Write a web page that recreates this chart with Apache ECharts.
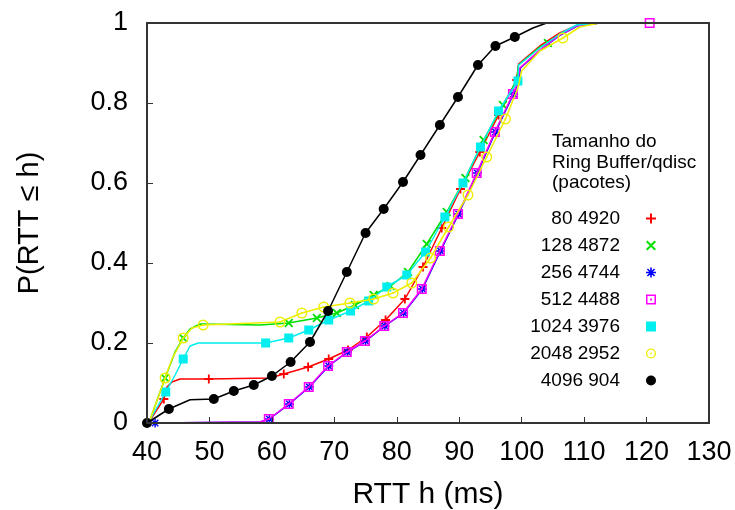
<!DOCTYPE html>
<html>
<head>
<meta charset="utf-8">
<script src="https://cdn.jsdelivr.net/npm/echarts@6/dist/echarts.min.js"></script>
<style>html,body{margin:0;padding:0;background:#fff}#c{width:735px;height:510px}</style>
</head>
<body>
<div id="c"></div>
<script>
// ---- data ----
const names = ['80 4920','128 4872','256 4744','512 4488','1024 3976','2048 2952','4096 904'];

const redX = [40.2,42.7,43.2,44.0,45.3,49.9,59.7,61.9,65.8,69.1,72.2,75.2,78.2,81.3,84.2,87.2,90.2,93.3,96.3,99.2,99.5,102.9,106.1,109.0,112.5];
const redY = [0,0.06,0.09,0.1025,0.11,0.11,0.1125,0.1225,0.14,0.16,0.1825,0.215,0.2575,0.31,0.39,0.4875,0.585,0.6775,0.77,0.8575,0.8975,0.9425,0.975,0.995,1];
const redM = [0,1,0,0,0,1,0,1,1,1,1,1,1,1,1,1,1,1,1,1,0,0,0,0,0];

const greenX = [40.3,42.9,44.5,45.8,46.9,48.5,58.1,62.7,67.2,70.4,73.3,76.3,79.0,81.8,84.8,88.0,91.0,93.9,97.0,99.2,99.5,102.9,104.2,106.4,109.0,112.5];
const greenY = [0,0.1125,0.1775,0.2125,0.235,0.2475,0.245,0.25,0.2625,0.275,0.295,0.32,0.3425,0.3775,0.4475,0.5275,0.6125,0.7075,0.795,0.8575,0.895,0.94,0.95,0.975,0.995,1];
const greenM = [0,1,0,1,0,0,0,1,1,1,1,1,1,1,1,1,1,1,1,0,0,0,1,0,0,0];

const blueX = [41.3,58.1,59.6,61.1,62.8,66.0,69.1,72.1,75.0,78.1,81.1,84.1,87.0,89.9,92.9,95.8,98.7,99.5,99.8,103.0,106.2,108.9,112.5,130];
const blueY = [0,0.0025,0.01,0.0275,0.0475,0.09,0.1425,0.1775,0.205,0.2425,0.275,0.335,0.43,0.5225,0.625,0.7275,0.8225,0.8525,0.8875,0.9325,0.97,0.9925,1,1];
const blueM = [1,0,1,0,1,1,1,1,1,1,1,1,1,1,1,1,1,0,0,0,0,0,0,0];

const magX = [40.8,58.1,59.5,61.0,62.7,65.9,69.0,72.0,74.9,78.0,81.0,84.0,86.9,89.8,92.8,95.7,98.6,99.4,99.7,102.9,106.1,108.8,112.5,120.5,130];
const magY = [0,0.0025,0.01,0.0275,0.0475,0.09,0.1425,0.1775,0.205,0.2425,0.275,0.335,0.43,0.5225,0.625,0.7275,0.8225,0.8525,0.8875,0.9325,0.97,0.9925,1,1,1];
const magM = [0,0,1,0,1,1,1,1,1,1,1,1,1,1,1,1,1,0,0,0,0,0,0,1,0];

const cyanX = [40.2,43.0,44.5,45.8,46.9,48.2,59.0,62.7,65.9,69.1,72.6,75.5,78.4,81.6,84.6,87.7,90.6,93.4,96.3,99.4,99.5,102.9,106.1,108.8,112.5];
const cyanY = [0,0.0775,0.12,0.16,0.1925,0.2,0.2,0.2125,0.2325,0.2575,0.28,0.305,0.34,0.37,0.4275,0.515,0.6,0.69,0.78,0.855,0.895,0.9375,0.9725,0.995,1];
const cyanM = [0,1,0,1,0,0,1,1,1,1,1,1,1,1,1,1,1,1,1,1,0,0,0,0,0];

const yellowX = [40.3,42.9,44.0,45.8,47.2,49.0,61.3,64.8,68.3,72.5,76.3,79.4,82.4,85.4,88.3,91.4,94.4,97.4,99.4,100.0,102.9,106.6,109.3,112.5];
const yellowY = [0,0.1125,0.16,0.2125,0.2375,0.245,0.2525,0.275,0.29,0.3,0.31,0.325,0.35,0.4125,0.49,0.57,0.665,0.76,0.8375,0.88,0.93,0.9625,0.99,1];
const yellowM = [0,1,0,1,0,1,1,1,1,1,1,1,1,1,1,1,1,1,0,0,0,1,0,0];

const blackX = [40,43.5,46.9,50.7,53.9,57.1,60.0,63.0,66.1,69.0,72.0,75.0,77.9,81.0,83.8,86.9,89.8,93.0,95.8,98.9,101.8,104.0,110];
const blackY = [0,0.035,0.058,0.06,0.08,0.095,0.1175,0.1525,0.2025,0.28,0.3775,0.475,0.535,0.6025,0.67,0.745,0.815,0.895,0.9425,0.965,0.9875,1,1];
const blackM = [1,1,0,1,1,1,1,1,1,1,1,1,1,1,1,1,1,1,1,1,0,0,0];

const xTicks = [40,50,60,70,80,90,100,110,120,130];
const yTicks = [0,0.2,0.4,0.6,0.8,1];

// ---- symbols ----
const SYM_PLUS = 'path://M4,0h2v4h4v2h-4v4h-2v-4h-4v-2h4z';
const SYM_X = 'path://M0,1.4L1.4,0L5,3.6L8.6,0L10,1.4L6.4,5L10,8.6L8.6,10L5,6.4L1.4,10L0,8.6L3.6,5Z';
const SYM_STAR = 'path://M4.2,0h1.6v4.2h4.2v1.6h-4.2v4.2h-1.6v-4.2h-4.2v-1.6h4.2z M0.9,2.0L2.0,0.9L5,3.9L8.0,0.9L9.1,2.0L6.1,5L9.1,8.0L8.0,9.1L5,6.1L2.0,9.1L0.9,8.0L3.9,5Z';
const SYM_SQDOT = 'path://M0,0H10V10H0Z M1.5,1.5V8.5H8.5V1.5Z M4.1,4.1H5.9V5.9H4.1Z';
const SYM_SQ = 'path://M0,0H10V10H0Z';
const SYM_CIRDOT = 'path://M5,0A5,5,0,1,1,5,10A5,5,0,1,1,5,0Z M5,1.3A3.7,3.7,0,1,0,5,8.7A3.7,3.7,0,1,0,5,1.3Z M5,4.1A0.9,0.9,0,1,1,5,5.9A0.9,0.9,0,1,1,5,4.1Z';

const defs = [
  {name: names[0], x: redX, y: redY, m: redM, color: '#ff0000', sym: SYM_PLUS, size: 9},
  {name: names[1], x: greenX, y: greenY, m: greenM, color: '#00e000', sym: SYM_X, size: 9},
  {name: names[2], x: blueX, y: blueY, m: blueM, color: '#0000ff', sym: SYM_STAR, size: 9},
  {name: names[3], x: magX, y: magY, m: magM, color: '#ff00ff', sym: SYM_SQDOT, size: 10},
  {name: names[4], x: cyanX, y: cyanY, m: cyanM, color: '#00eeee', sym: SYM_SQ, size: 9},
  {name: names[5], x: yellowX, y: yellowY, m: yellowM, color: '#eeee00', sym: SYM_CIRDOT, size: 11},
  {name: names[6], x: blackX, y: blackY, m: blackM, color: '#000000', sym: 'circle', size: 10}
];

const series = defs.map((d, i) => ({
  name: d.name,
  type: 'line',
  z: 2 + i,
  color: d.color,
  symbol: d.sym,
  symbolSize: d.size,
  showSymbol: true,
  showAllSymbol: true,
  lineStyle: {width: 1.5, color: d.color},
  itemStyle: {color: d.color},
  emphasis: {disabled: true},
  data: d.x.map((x, k) => d.m[k] ? {value: [x, d.y[k]]} : {value: [x, d.y[k]], symbol: 'none'})
}));

const chart = echarts.init(document.getElementById('c'), null, {renderer: 'canvas'});
const FONT = 'Liberation Sans';
chart.setOption({
  animation: false,
  backgroundColor: '#fff',
  textStyle: {fontFamily: FONT},
  grid: {left: 147, right: 26, top: 23, bottom: 87, show: false, containLabel: false, outerBoundsMode: 'none'},
  title: {
    text: 'Tamanho do\nRing Buffer/qdisc\n(pacotes)',
    left: 552, top: 132, padding: 0,
    textStyle: {fontFamily: FONT, fontSize: 19, fontWeight: 'normal', color: '#000', lineHeight: 20.5}
  },
  legend: {
    orient: 'vertical',
    align: 'right',
    right: 79, top: 209, padding: 0,
    itemWidth: 52, itemHeight: 10, itemGap: 8,
    selectedMode: false,
    textStyle: {fontFamily: FONT, fontSize: 19, color: '#000'},
    itemStyle: {borderWidth: 0},
    data: defs.map(d => ({name: d.name, icon: d.sym, itemStyle: {color: d.color, borderWidth: 0}}))
  },
  xAxis: [{
    type: 'value', min: xTicks[0], max: xTicks[xTicks.length - 1], interval: 10,
    name: 'RTT h (ms)', nameLocation: 'middle', nameGap: 57,
    nameTextStyle: {fontFamily: FONT, fontSize: 30, color: '#000'},
    axisLine: {show: true, onZero: false, lineStyle: {color: '#333', width: 2}},
    axisTick: {show: true, inside: true, length: 6, lineStyle: {color: '#333', width: 1}},
    axisLabel: {margin: 16, fontFamily: FONT, fontSize: 27, color: '#000'},
    splitLine: {show: false},
    z: 20
  }, {
    type: 'value', position: 'top', min: 40, max: 130, interval: 10,
    axisLine: {show: true, onZero: false, lineStyle: {color: '#333', width: 2}},
    axisTick: {show: false}, axisLabel: {show: false}, splitLine: {show: false},
    z: 20
  }],
  yAxis: [{
    type: 'value', min: yTicks[0], max: yTicks[yTicks.length - 1], interval: 0.2,
    name: 'P(RTT \u2264 h)', nameLocation: 'middle', nameGap: 103,
    nameTextStyle: {fontFamily: FONT, fontSize: 29, color: '#000'},
    axisLine: {show: true, onZero: false, lineStyle: {color: '#333', width: 2}},
    axisTick: {show: true, inside: true, length: 6, lineStyle: {color: '#333', width: 1}},
    axisLabel: {margin: 19, fontFamily: FONT, fontSize: 27, color: '#000'},
    splitLine: {show: false},
    z: 20
  }, {
    type: 'value', position: 'right', min: 0, max: 1, interval: 0.2,
    axisLine: {show: true, onZero: false, lineStyle: {color: '#333', width: 2}},
    axisTick: {show: false}, axisLabel: {show: false}, splitLine: {show: false},
    z: 20
  }],
  series: series
});
</script>
</body>
</html>
